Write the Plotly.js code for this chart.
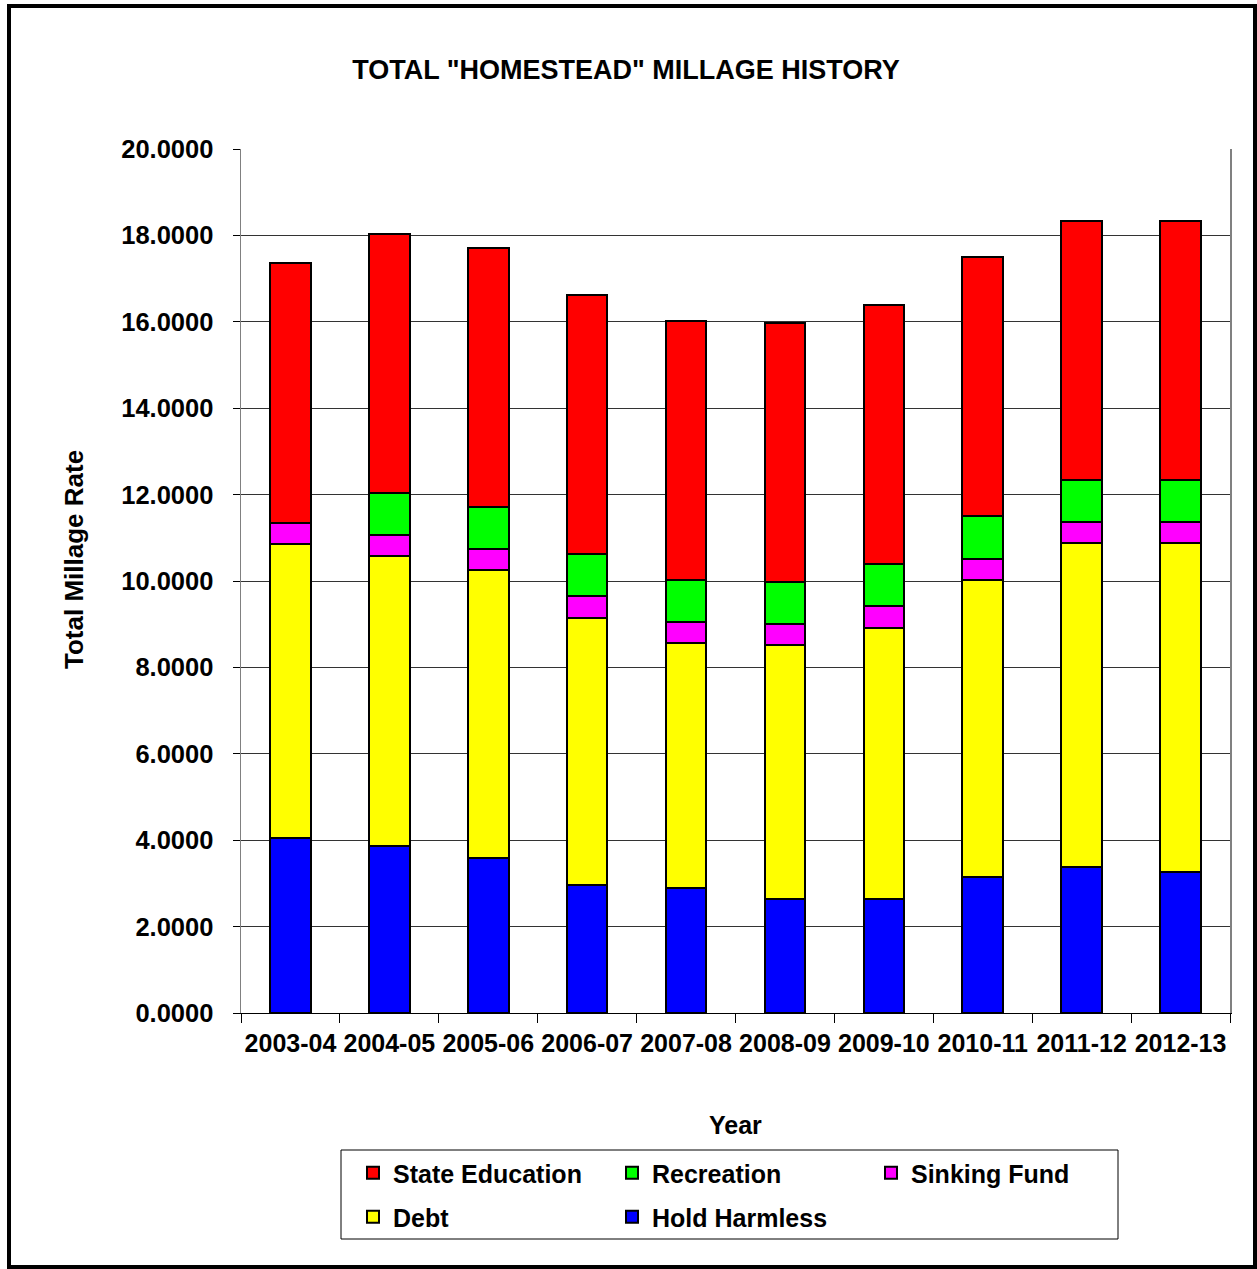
<!DOCTYPE html>
<html>
<head>
<meta charset="utf-8">
<script src="https://cdn.plot.ly/plotly-3.0.1.min.js"></script>
<style>
  html, body { margin: 0; padding: 0; background: #fff; }
  #chart { width: 1257px; height: 1269px; position: relative; }
  #frame { position: absolute; left: 7px; top: 4px; width: 1250px; height: 1265px; box-sizing: border-box; border: 4px solid #000; pointer-events: none; }
</style>
</head>
<body>
<div id="chart"></div>
<div id="frame"></div>
<script>
const years = ["2003-04","2004-05","2005-06","2006-07","2007-08","2008-09","2009-10","2010-11","2011-12","2012-13"];
const holdHarmless = [4.05, 3.87, 3.59, 2.96, 2.90, 2.65, 2.65, 3.14, 3.37, 3.26];
const debt         = [6.80, 6.71, 6.66, 6.19, 5.66, 5.86, 6.27, 6.88, 7.50, 7.61];
const sinkingFund  = [0.50, 0.48, 0.50, 0.50, 0.48, 0.49, 0.49, 0.50, 0.49, 0.49];
const recreation   = [0.00, 0.98, 0.97, 0.98, 0.98, 0.98, 0.98, 0.98, 0.98, 0.98];
const stateEd      = [6.01, 5.99, 6.00, 6.00, 6.01, 6.00, 6.00, 5.99, 5.99, 5.99];

const FONT = "Liberation Sans, Arial, sans-serif";
const line = {color: "#000", width: 2};

function tr(name, y, color, legend) {
  return {type: "bar", name: name, x: years, y: y, legend: legend,
    marker: {color: color, line: line}, hoverinfo: "x+y+name"};
}
const data = [
  tr("Hold Harmless", holdHarmless, "#0000FF", "legend2"),
  tr("Debt", debt, "#FFFF00", "legend2"),
  tr("Sinking Fund", sinkingFund, "#FF00FF", "legend"),
  tr("Recreation", recreation, "#00FF00", "legend"),
  tr("State Education", stateEd, "#FF0000", "legend")
];

const L = 241, R = 27, T = 149, B = 256;
const W = 1257, H = 1269;
const pw = W - L - R, ph = H - T - B;
const px = x => (x - L) / pw;
const py = y => (H - B - y) / ph;

const legendCommon = {
  orientation: "h", traceorder: "reversed", xanchor: "left", yanchor: "middle",
  entrywidth: 214, entrywidthmode: "pixels", bgcolor: "rgba(0,0,0,0)", borderwidth: 0,
  font: {family: FONT, size: 25, color: "#000", weight: 700}
};

const layout = {
  width: W, height: H,
  margin: {l: L, r: R, t: T, b: B, autoexpand: false},
  paper_bgcolor: "#fff", plot_bgcolor: "#fff",
  barmode: "stack", bargap: 0.59,
  font: {family: FONT, color: "#000"},
  title: {text: 'TOTAL "HOMESTEAD" MILLAGE HISTORY', x: 626 / W, xref: "container", xanchor: "center",
    y: 1 - 70 / H, yref: "container", yanchor: "middle",
    font: {family: FONT, size: 27, color: "#000", weight: 700}},
  xaxis: {
    type: "category", showgrid: false, showline: true, linecolor: "#000", linewidth: 1,
    ticks: "outside", tickson: "boundaries", ticklen: 9, tickcolor: "#000",
    tickangle: 0, ticklabelstandoff: 8,
    tickfont: {family: FONT, size: 25, color: "#000", weight: 700},
    automargin: false, fixedrange: true
  },
  yaxis: {
    range: [0, 20], dtick: 2, tickformat: ".4f",
    showgrid: true, gridcolor: "#333", gridwidth: 1,
    showline: true, linecolor: "#808080", linewidth: 1.5, mirror: true,
    ticks: "outside", ticklen: 7, tickcolor: "#000",
    ticklabelstandoff: 14,
    tickfont: {family: FONT, size: 25.5, color: "#000", weight: 700},
    automargin: false, fixedrange: true, zeroline: false
  },
  showlegend: true,
  legend: Object.assign({}, legendCommon, {x: px(353), y: py(1173)}),
  legend2: Object.assign({}, legendCommon, {x: px(353), y: py(1217)}),
  shapes: [{type: "rect", xref: "paper", yref: "paper",
    x0: px(341), x1: px(1118), y0: py(1239), y1: py(1150),
    line: {color: "#000", width: 1}, fillcolor: "rgba(0,0,0,0)", layer: "below"}],
  annotations: [
    {text: "Total Millage Rate", xref: "paper", yref: "paper", x: px(74), y: py(560),
      textangle: -90, showarrow: false, xanchor: "center", yanchor: "middle",
      font: {family: FONT, size: 26, color: "#000", weight: 700}},
    {text: "Year", xref: "paper", yref: "paper", x: px(735), y: py(1125),
      showarrow: false, xanchor: "center", yanchor: "middle",
      font: {family: FONT, size: 25, color: "#000", weight: 700}}
  ]
};

Plotly.newPlot("chart", data, layout, {displayModeBar: false, staticPlot: true});
</script>
</body>
</html>
